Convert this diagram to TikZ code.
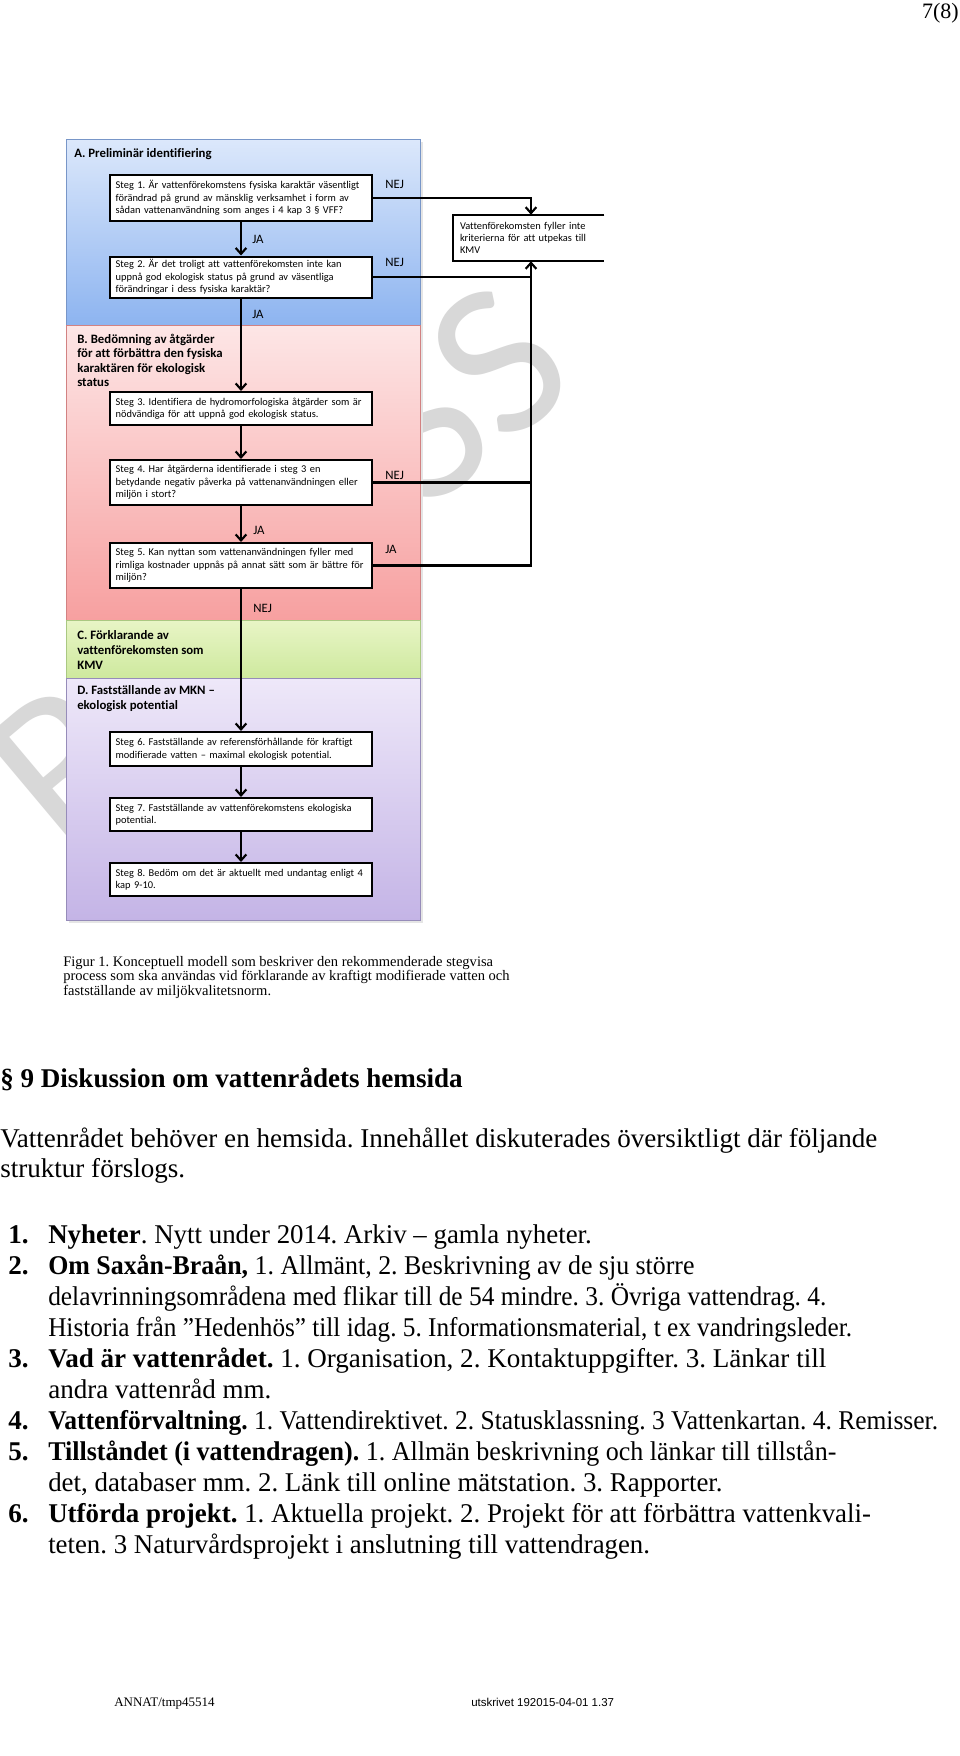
\documentclass[tikz,border=0pt]{standalone}
\usepackage{fontspec}
\usepackage{graphicx}
\setmainfont{Liberation Serif}
\newfontfamily\carlito[Ligatures=NoCommon]{Carlito}
\newfontfamily\libsans{Liberation Sans}
\usetikzlibrary{arrows.meta}
\frenchspacing
\newcommand\fitto[2]{\resizebox{#1}{\height}{#2}}
\definecolor{aTop}{RGB}{220,232,251}
\definecolor{aBot}{RGB}{141,180,240}
\definecolor{aEdge}{RGB}{120,150,200}
\definecolor{bTop}{RGB}{253,230,230}
\definecolor{bBot}{RGB}{247,160,160}
\definecolor{bEdge}{RGB}{210,130,130}
\definecolor{cTop}{RGB}{232,245,198}
\definecolor{cBot}{RGB}{206,233,158}
\definecolor{cEdge}{RGB}{170,200,130}
\definecolor{dTop}{RGB}{238,232,249}
\definecolor{dBot}{RGB}{196,180,230}
\definecolor{dEdge}{RGB}{150,140,185}
\definecolor{wmgray}{RGB}{216,216,216}
\begin{document}
\begin{tikzpicture}[x=0.75pt,y=-0.75pt,
  stepbox/.style={draw=black,line width=1.5pt,fill=white,minimum width=196.5pt,
    inner xsep=4.25pt,inner ysep=0pt,text width=188pt,align=left,
    font=\carlito\fontsize{7.8pt}{9.4pt}\selectfont},
  kmvbox/.style={minimum width=117pt,minimum height=34.5pt,inner xsep=5.25pt,
    inner ysep=0pt,text width=106.5pt,align=left,
    font=\carlito\fontsize{7.8pt}{9.2pt}\selectfont},
  conn/.style={line width=1.6pt},
  arr/.style={-{Straight Barb[length=4.5pt,width=8pt]}},
  lbl/.style={font=\carlito\fontsize{9.6pt}{11pt}\selectfont,anchor=base west,inner sep=0pt},
  sec/.style={font=\carlito\bfseries\fontsize{9.6pt}{10.7pt}\selectfont,anchor=base west,inner sep=0pt},
  body/.style={font=\fontsize{20.3pt}{23.25pt}\selectfont,anchor=base west,inner sep=0pt},
  bodyb/.style={font=\bfseries\fontsize{20.3pt}{23.25pt}\selectfont,anchor=base west,inner sep=0pt},
  capt/.style={font=\fontsize{10.9pt}{11pt}\selectfont,anchor=base west,inner sep=0pt},
  wm/.style={font=\carlito\fontsize{165pt}{165pt}\selectfont,text=wmgray,inner sep=0pt,rotate=40}
]
\useasboundingbox (0,0) rectangle (960,1756);
\fill[white] (0,0) rectangle (960,1756);

% watermark (only the letters that show beside the panels)
\node[wm] (wmR) at (64,764) {R};
\node[wm] (wmS) at (460,394) {SS};

% page number
\node[anchor=base east,inner sep=0pt,font=\fontsize{16.5pt}{18pt}\selectfont] (pg) at (959,18) {7(8)};

% panels
\fill[black!10] (69,142) rectangle (423,923);
\shade[top color=aTop,bottom color=aBot,draw=aEdge,line width=0.6pt] (66,139) rectangle (420,325);
\shade[top color=bTop,bottom color=bBot,draw=bEdge,line width=0.6pt] (66,325) rectangle (420,620);
\shade[top color=cTop,bottom color=cBot,draw=cEdge,line width=0.6pt] (66,620) rectangle (420,678);
\shade[top color=dTop,bottom color=dBot,draw=dEdge,line width=0.6pt] (66,678) rectangle (420,920);

% section labels
\node[sec] (secA) at (74,157) {A. Preliminär identifiering};
\node[sec] (secB1) at (77,343) {B. Bedömning av åtgärder};
\node[sec] (secB2) at (77,357.5) {för att förbättra den fysiska};
\node[sec] (secB3) at (77,372) {karaktären för ekologisk};
\node[sec] (secB4) at (77,386.5) {status};
\node[sec] (secC1) at (77,639) {C. Förklarande av};
\node[sec] (secC2) at (77,654) {vattenförekomsten som};
\node[sec] (secC3) at (77,669) {KMV};
\node[sec] (secD1) at (77,694) {D. Fastställande av MKN –};
\node[sec] (secD2) at (77,709) {ekologisk potential};

% step boxes
\node[stepbox,minimum height=34.5pt] (b1) at (241,198) {Steg 1. Är vattenförekomstens fysiska karaktär väsentligt\\förändrad på grund av mänsklig verksamhet i form av\\sådan vattenanvändning som anges i 4 kap 3 § VFF?};
\node[stepbox,minimum height=30.75pt] (b2) at (241,277) {Steg 2. Är det troligt att vattenförekomsten inte kan\\uppnå god ekologisk status på grund av väsentliga\\förändringar i dess fysiska karaktär?};
\node[stepbox,minimum height=24.75pt] (b3) at (241,408.5) {Steg 3. Identifiera de hydromorfologiska åtgärder som är\\nödvändiga för att uppnå god ekologisk status.};
\node[stepbox,minimum height=33.75pt] (b4) at (241,482.5) {Steg 4. Har åtgärderna identifierade i steg 3 en\\betydande negativ påverka på vattenanvändningen eller\\miljön i stort?};
\node[stepbox,minimum height=33.75pt] (b5) at (241,565.5) {Steg 5. Kan nyttan som vattenanvändningen fyller med\\rimliga kostnader uppnås på annat sätt som är bättre för\\miljön?};
\node[stepbox,minimum height=25.5pt] (b6) at (241,749) {Steg 6. Fastställande av referensförhållande för kraftigt\\modifierade vatten – maximal ekologisk potential.};
\node[stepbox,minimum height=24.75pt] (b7) at (241,814.5) {Steg 7. Fastställande av vattenförekomstens ekologiska\\potential.};
\node[stepbox,minimum height=24.75pt] (b8) at (241,879.5) {Steg 8. Bedöm om det är aktuellt med undantag enligt 4\\kap 9-10.};

% KMV box (open at right)
\node[kmvbox] (kmv) at (531,238) {Vattenförekomsten fyller inte\\kriterierna för att utpekas till\\KMV};
\draw[line width=1.5pt] ([xshift=-3.75pt]kmv.north east) -- (kmv.north west) -- (kmv.south west) -- ([xshift=-3.75pt]kmv.south east);

% main flow
\draw[conn,arr] (b1) -- (b2);
\draw[conn,arr] (b2) -- (b3);
\draw[conn,arr] (b3) -- (b4);
\draw[conn,arr] (b4) -- (b5);
\draw[conn,arr] (b5) -- (b6);
\draw[conn,arr] (b6) -- (b7);
\draw[conn,arr] (b7) -- (b8);

% right side rail
\draw[conn,arr] (b1.east) -| (kmv.north);
\draw[conn,arr] (b5.east) -| (kmv.south);
\draw[conn] (b2.east) -- (b2.east -| kmv.south);
\draw[conn] (b4.east) -- (b4.east -| kmv.south);

% branch labels
\node[lbl] (l1) at (385,188) {NEJ};
\node[lbl] (l2) at (252,243) {JA};
\node[lbl] (l3) at (385,266) {NEJ};
\node[lbl] (l4) at (252,318) {JA};
\node[lbl] (l5) at (385,479) {NEJ};
\node[lbl] (l6) at (253,534) {JA};
\node[lbl] (l7) at (385,553) {JA};
\node[lbl] (l8) at (253,612) {NEJ};

% caption
\node[capt] (c1) at (63,966) {Figur 1. Konceptuell modell som beskriver den rekommenderade stegvisa};
\node[capt] (c2) at (63,980.5) {process som ska användas vid förklarande av kraftigt modifierade vatten och};
\node[capt] (c3) at (63,995) {fastställande av miljökvalitetsnorm.};

% body text
\node[bodyb] (h) at (0,1087) {§ 9 Diskussion om vattenrådets hemsida};
\node[body] (p1) at (0,1147) {Vattenrådet behöver en hemsida. Innehållet diskuterades översiktligt där följande};
\node[body] (p2) at (0,1177) {struktur förslogs.};

\node[bodyb] (n1) at (8,1243) {1.};
\node[body] (i1) at (48,1243) {\fitto{407.7pt}{\textbf{Nyheter}. Nytt under 2014. Arkiv – gamla nyheter.}};
\node[bodyb] (n2) at (8,1274) {2.};
\node[body] (i2a) at (48,1274) {\fitto{484.7pt}{\textbf{Om Saxån-Braån,} 1. Allmänt, 2. Beskrivning av de sju större}};
\node[body] (i2b) at (48,1305) {\fitto{583.5pt}{delavrinningsområdena med flikar till de 54 mindre. 3. Övriga vattendrag. 4.}};
\node[body] (i2c) at (48,1336) {\fitto{602.8pt}{Historia från ”Hedenhös” till idag. 5. Informationsmaterial, t ex vandringsleder.}};
\node[bodyb] (n3) at (8,1367) {3.};
\node[body] (i3a) at (48,1367) {\fitto{583.5pt}{\textbf{Vad är vattenrådet.} 1. Organisation, 2. Kontaktuppgifter. 3. Länkar till}};
\node[body] (i3b) at (48,1398) {andra vattenråd mm.};
\node[bodyb] (n4) at (8,1429) {4.};
\node[body] (i4) at (48,1429) {\fitto{667.3pt}{\textbf{Vattenförvaltning.} 1. Vattendirektivet. 2. Statusklassning. 3 Vattenkartan. 4. Remisser.}};
\node[bodyb] (n5) at (8,1460) {5.};
\node[body] (i5a) at (48,1460) {\fitto{591.1pt}{\textbf{Tillståndet (i vattendragen).} 1. Allmän beskrivning och länkar till tillstån-}};
\node[body] (i5b) at (48,1491) {\fitto{505.7pt}{det, databaser mm. 2. Länk till online mätstation. 3. Rapporter.}};
\node[bodyb] (n6) at (8,1522) {6.};
\node[body] (i6a) at (48,1522) {\fitto{617pt}{\textbf{Utförda projekt.} 1. Aktuella projekt. 2. Projekt för att förbättra vattenkvali-}};
\node[body] (i6b) at (48,1553) {\fitto{451.3pt}{teten. 3 Naturvårdsprojekt i anslutning till vattendragen.}};

% footer
\node[anchor=base west,inner sep=0pt,font=\fontsize{9.75pt}{11pt}\selectfont] (f1) at (114,1706) {ANNAT/tmp45514};
\node[anchor=base west,inner sep=0pt,font=\libsans\fontsize{8.6pt}{10pt}\selectfont] (f2) at (471,1706) {utskrivet 192015-04-01 1.37};
\end{tikzpicture}
\end{document}
